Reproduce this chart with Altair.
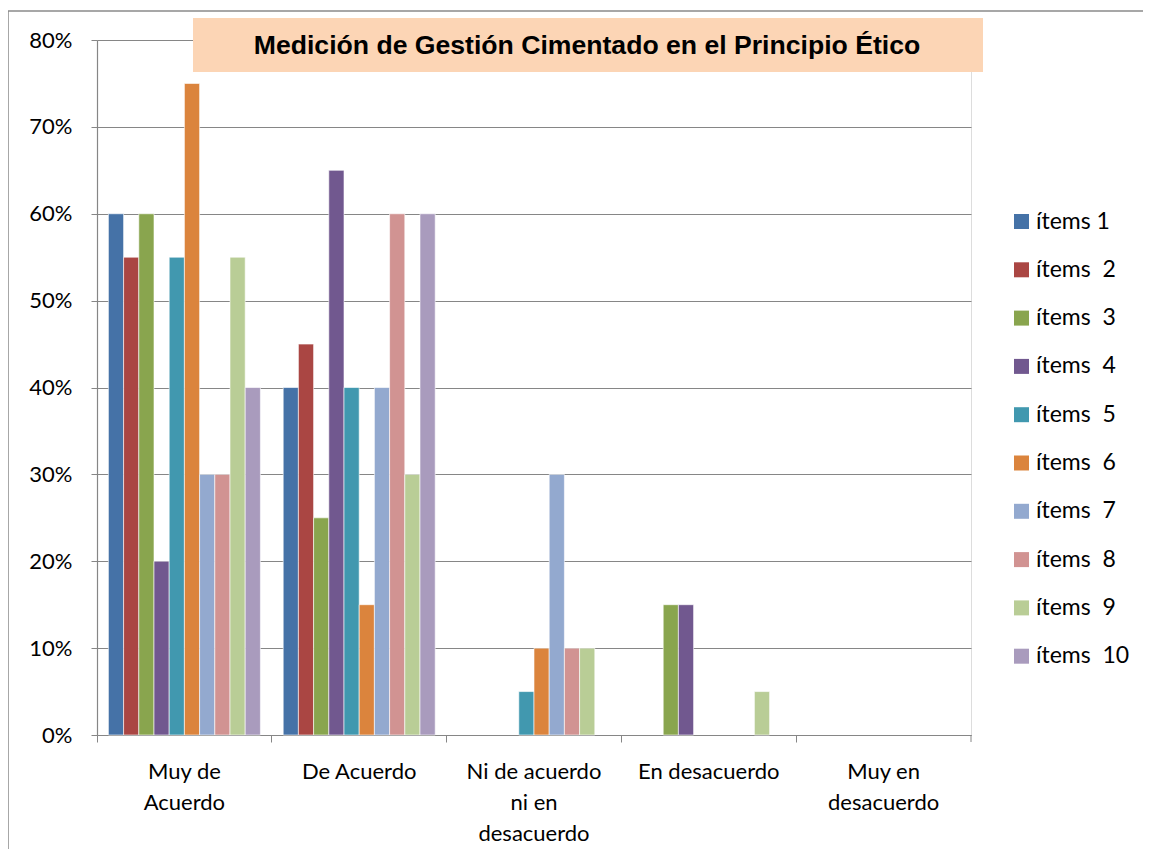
import altair as alt
import pandas as pd

categories = ["Muy de Acuerdo", "De Acuerdo", "Ni de acuerdo ni en desacuerdo",
              "En desacuerdo", "Muy en desacuerdo"]
category_lines = [["Muy de", "Acuerdo"], ["De Acuerdo"], ["Ni de acuerdo", "ni en", "desacuerdo"],
                  ["En desacuerdo"], ["Muy en", "desacuerdo"]]
series = ["ítems 1", "ítems  2", "ítems  3", "ítems  4", "ítems  5",
          "ítems  6", "ítems  7", "ítems  8", "ítems  9", "ítems  10"]
colors = ["#4572A7", "#AA4643", "#89A54E", "#71588F", "#4198AF",
          "#DB843D", "#93A9CF", "#D19392", "#B9CD96", "#A99BBD"]

# values per category (percent), one entry per series
muy_de_acuerdo = [60, 55, 60, 20, 55, 75, 30, 30, 55, 40]
de_acuerdo = [40, 45, 25, 65, 40, 15, 40, 60, 30, 60]
ni_ni = [0, 0, 0, 0, 5, 10, 30, 10, 10, 0]
en_desacuerdo = [0, 0, 15, 15, 0, 0, 0, 0, 5, 0]
muy_en_desacuerdo = [0, 0, 0, 0, 0, 0, 0, 0, 0, 0]

title_text = "Medición de Gestión Cimentado en el Principio Ético"

series_disp = [s.replace("  ", " \u00a0") for s in series]
rows = []
for cat, vals in zip(categories, [muy_de_acuerdo, de_acuerdo, ni_ni, en_desacuerdo, muy_en_desacuerdo]):
    for s, v in zip(series_disp, vals):
        rows.append({"categoria": cat, "item": s, "valor": v / 100})
df = pd.DataFrame(rows)

label_expr = ""
for cat, lines in zip(categories, category_lines):
    arr = "[" + ",".join("'" + l + "'" for l in lines) + "]"
    label_expr += f"datum.value == '{cat}' ? {arr} : "
label_expr += "datum.label"

W, H = 874, 695
AX = "#868686"
FONT = "Lato"

bars = alt.Chart(df).transform_filter("datum.valor > 0").mark_bar(
    stroke="white", strokeWidth=0.6
).encode(
    x=alt.X("categoria:N", sort=categories, title=None,
            scale=alt.Scale(domain=categories, paddingInner=0, paddingOuter=0),
            axis=alt.Axis(labelAngle=0, labelExpr=label_expr, labelLineHeight=31,
                          labelFont=FONT, labelFontSize=22, labelColor="#000000",
                          labelBaseline="top", labelPadding=19, tickSize=7,
                          tickColor=AX, domainColor=AX, domainWidth=1.2,
                          bandPosition=0, labelAlign="center", grid=False)),
    xOffset=alt.XOffset("item:N", sort=series_disp,
                        scale=alt.Scale(domain=series_disp, paddingInner=0, paddingOuter=0.75)),
    y=alt.Y("valor:Q", title=None,
            scale=alt.Scale(domain=[0, 0.8], nice=False),
            axis=alt.Axis(format="%", values=[i / 10 for i in range(9)],
                          labelFont=FONT, labelFontSize=22, labelColor="#000000",
                          labelPadding=19, tickSize=6, tickColor=AX, domainColor=AX,
                          domainWidth=1.2, gridColor=AX, gridWidth=1.2)),
    color=alt.Color("item:N", sort=series_disp,
                    scale=alt.Scale(domain=series_disp, range=colors),
                    legend=alt.Legend(title=None, orient="none", legendX=913, legendY=170,
                                      symbolType="square", symbolSize=225,
                                      symbolStrokeWidth=0, labelFont=FONT,
                                      labelFontSize=23, labelColor="#000000",
                                      rowPadding=24.3, labelOffset=3, labelLimit=200)),
)

one = pd.DataFrame({"k": [0]})

frame = alt.Chart(one).mark_rect(fill=None, stroke="#8a8a8a", strokeWidth=1.5).encode(
    x=alt.value(-89), x2=alt.value(1200), y=alt.value(-29), y2=alt.value(900))

title_box = alt.Chart(one).mark_rect(fill="#FCD5B5").encode(
    x=alt.value(96), x2=alt.value(886), y=alt.value(-22), y2=alt.value(32))

title = alt.Chart(one).mark_text(font="Liberation Sans", fontWeight="bold", fontSize=26.6,
                                 color="#000000", align="center", baseline="middle").encode(
    x=alt.value(490), y=alt.value(6), text=alt.value(title_text))

end_tick = alt.Chart(one).mark_rule(color=AX, strokeWidth=1).encode(
    x=alt.value(W), y=alt.value(H), y2=alt.value(H + 7))

chart = alt.layer(frame, bars, title_box, title, end_tick).properties(
    width=W, height=H,
    autosize=alt.AutoSizeParams(type="none"),
    padding={"left": 89, "top": 32, "right": 172, "bottom": 114},
).configure_view(stroke=None).configure(background="white")

chart.save("out.html", embed_options={"renderer": "svg", "actions": False})
